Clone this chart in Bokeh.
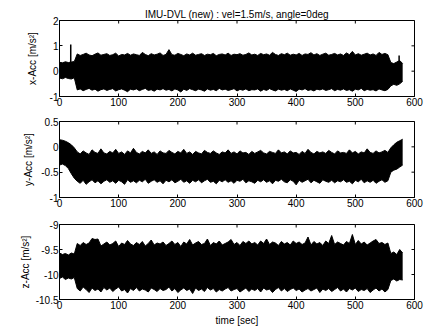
import math
from bokeh.plotting import figure
from bokeh.layouts import column
from bokeh.models import Range1d, FixedTicker
from bokeh.embed import file_html
from bokeh.resources import INLINE

# sample times [sec]
t = list(range(0, 585, 5))
x_ticks = [0, 100, 200, 300, 400, 500, 600]

# ---- x-Acc envelope (upper / lower) ----
x_upper = [0.35, 0.33, 0.37, 0.34, 0.36, 0.38,
           0.68, 0.62, 0.66, 0.71, 0.64, 0.61, 0.67, 0.72, 0.63, 0.66,
           0.69, 0.62, 0.65, 0.71, 0.60, 0.66, 0.64, 0.70, 0.63, 0.68,
           0.65, 0.62, 0.74, 0.66, 0.61, 0.69, 0.64, 0.67, 0.72, 0.62,
           0.66, 0.85, 0.65, 0.63, 0.70, 0.66, 0.61, 0.68, 0.64, 0.71,
           0.63, 0.66, 0.69, 0.62, 0.67, 0.65, 0.70, 0.61, 0.66, 0.68,
           0.64, 0.71, 0.62, 0.67, 0.65, 0.69, 0.63, 0.66, 0.72, 0.64,
           0.67, 0.62, 0.70, 0.65, 0.68, 0.63, 0.74, 0.66, 0.62, 0.69,
           0.65, 0.71, 0.63, 0.67, 0.64, 0.70, 0.62, 0.68, 0.66, 0.73,
           0.64, 0.69, 0.62, 0.67, 0.71, 0.63, 0.66, 0.70, 0.64, 0.68,
           0.62, 0.72, 0.65, 0.78, 0.64, 0.69, 0.63, 0.67, 0.71, 0.64,
           0.68, 0.62, 0.74, 0.66, 0.70, 0.65,
           0.34, 0.30, 0.36, 0.42, 0.30]
x_lower = [-0.27, -0.30, -0.25, -0.29, -0.31, -0.26,
           -0.74, -0.70, -0.77, -0.72, -0.68, -0.75, -0.71, -0.79, -0.73, -0.70,
           -0.76, -0.72, -0.69, -0.78, -0.73, -0.70, -0.75, -0.81, -0.71, -0.74,
           -0.70, -0.77, -0.72, -0.68, -0.76, -0.73, -0.79, -0.71, -0.74, -0.69,
           -0.75, -0.72, -0.78, -0.70, -0.74, -0.82, -0.71, -0.76, -0.69, -0.73,
           -0.77, -0.71, -0.74, -0.79, -0.70, -0.75, -0.72, -0.77, -0.68, -0.74,
           -0.71, -0.76, -0.73, -0.69, -0.78, -0.72, -0.75, -0.70, -0.77, -0.73,
           -0.74, -0.70, -0.79, -0.72, -0.76, -0.69, -0.74, -0.78, -0.71, -0.75,
           -0.72, -0.77, -0.70, -0.75, -0.80, -0.71, -0.74, -0.69, -0.76, -0.73,
           -0.78, -0.71, -0.74, -0.70, -0.76, -0.73, -0.69, -0.77, -0.72, -0.75,
           -0.70, -0.76, -0.73, -0.79, -0.71, -0.74, -0.68, -0.77, -0.72, -0.75,
           -0.73, -0.78, -0.70, -0.74, -0.77, -0.72,
           -0.58, -0.52, -0.56, -0.50, -0.40]
x_spike_t = [19, 574]
x_spike_lo = [0.30, 0.30]
x_spike_hi = [1.05, 0.62]

# ---- y-Acc envelope ----
y_upper = [0.14, 0.13, 0.11, 0.08, 0.04, -0.02,
           -0.10, -0.14, -0.08, -0.12, -0.15, -0.06, -0.11, -0.13, -0.04, -0.12,
           -0.14, -0.09, -0.12, -0.05, -0.13, -0.10, -0.15, -0.08, -0.12, -0.03,
           -0.11, -0.14, -0.09, -0.12, -0.06, -0.13, -0.10, -0.15, -0.08, -0.12,
           -0.13, -0.07, -0.11, -0.14, -0.09, -0.12, -0.05, -0.13, -0.10, -0.15,
           -0.09, -0.12, -0.14, -0.07, -0.11, -0.13, -0.08, -0.12, -0.15, -0.10,
           -0.12, -0.06, -0.13, -0.10, -0.14, -0.08, -0.12, -0.11, -0.15, -0.09,
           -0.13, -0.10, -0.07, -0.12, -0.14, -0.09, -0.11, -0.13, -0.06, -0.12,
           -0.10, -0.14, -0.08, -0.12, -0.11, -0.15, -0.09, -0.13, -0.05, -0.11,
           -0.14, -0.09, -0.12, -0.10, -0.13, -0.07, -0.11, -0.14, -0.08, -0.12,
           -0.11, -0.13, -0.06, -0.12, -0.09, -0.14, -0.10, -0.12, -0.04, -0.11,
           -0.13, -0.08, -0.12, -0.10, -0.07, -0.11,
           -0.02, 0.04, 0.09, 0.12, 0.15]
y_lower = [-0.36, -0.34, -0.37, -0.43, -0.53, -0.62,
           -0.68, -0.72, -0.66, -0.74, -0.69, -0.65, -0.71, -0.67, -0.73, -0.68,
           -0.65, -0.70, -0.67, -0.72, -0.66, -0.69, -0.74, -0.65, -0.70, -0.67,
           -0.71, -0.66, -0.69, -0.64, -0.72, -0.68, -0.65, -0.70, -0.67, -0.73,
           -0.66, -0.69, -0.65, -0.71, -0.68, -0.64, -0.70, -0.67, -0.72, -0.66,
           -0.69, -0.65, -0.71, -0.67, -0.64, -0.70, -0.68, -0.73, -0.66, -0.69,
           -0.65, -0.70, -0.67, -0.72, -0.66, -0.68, -0.64, -0.71, -0.67, -0.69,
           -0.72, -0.66, -0.69, -0.65, -0.70, -0.67, -0.73, -0.66, -0.68, -0.64,
           -0.69, -0.71, -0.65, -0.68, -0.75, -0.66, -0.70, -0.67, -0.64, -0.71,
           -0.66, -0.69, -0.72, -0.65, -0.68, -0.70, -0.66, -0.71, -0.67, -0.69,
           -0.65, -0.70, -0.68, -0.73, -0.66, -0.69, -0.64, -0.71, -0.67, -0.70,
           -0.66, -0.72, -0.68, -0.65, -0.70, -0.67,
           -0.50, -0.46, -0.44, -0.40, -0.36]

# ---- z-Acc envelope ----
z_upper = [-9.57, -9.60, -9.58, -9.61, -9.57, -9.59,
           -9.38, -9.42, -9.36, -9.40, -9.37, -9.28, -9.30, -9.29, -9.43, -9.39,
           -9.35, -9.41, -9.38, -9.33, -9.44, -9.37, -9.40, -9.32, -9.39, -9.42,
           -9.36, -9.40, -9.34, -9.43, -9.38, -9.31, -9.41, -9.37, -9.39, -9.35,
           -9.42, -9.38, -9.33, -9.40, -9.36, -9.44, -9.35, -9.39, -9.30, -9.41,
           -9.37, -9.34, -9.40, -9.38, -9.29, -9.42, -9.36, -9.39, -9.33, -9.41,
           -9.38, -9.35, -9.30, -9.40, -9.36, -9.42, -9.34, -9.38, -9.33, -9.39,
           -9.36, -9.41, -9.33, -9.38, -9.29, -9.40, -9.35, -9.37, -9.42, -9.34,
           -9.39, -9.36, -9.41, -9.33, -9.38, -9.35, -9.40, -9.37, -9.25, -9.41,
           -9.34, -9.39, -9.36, -9.42, -9.33, -9.38, -9.22, -9.40, -9.35, -9.38,
           -9.41, -9.34, -9.38, -9.20, -9.40, -9.32, -9.39, -9.35, -9.41, -9.37,
           -9.33, -9.30, -9.38, -9.36, -9.40, -9.37,
           -9.58, -9.55, -9.60, -9.50, -9.57]
z_lower = [-10.08, -10.05, -10.10, -10.07, -10.09, -10.06,
           -10.28, -10.33, -10.25, -10.30, -10.36, -10.27, -10.32, -10.29, -10.35, -10.26,
           -10.31, -10.27, -10.34, -10.29, -10.25, -10.33, -10.30, -10.37, -10.28, -10.32,
           -10.26, -10.33, -10.29, -10.31, -10.35, -10.27, -10.30, -10.34, -10.28, -10.32,
           -10.30, -10.25, -10.33, -10.28, -10.36, -10.31, -10.27, -10.32, -10.29, -10.38,
           -10.27, -10.32, -10.29, -10.34, -10.26, -10.31, -10.28, -10.35, -10.30, -10.33,
           -10.29, -10.26, -10.33, -10.30, -10.28, -10.35, -10.31, -10.27, -10.34, -10.29,
           -10.32, -10.28, -10.35, -10.27, -10.31, -10.29, -10.36, -10.30, -10.26, -10.33,
           -10.28, -10.34, -10.30, -10.27, -10.32, -10.29, -10.35, -10.31, -10.28, -10.33,
           -10.30, -10.27, -10.36, -10.29, -10.32, -10.28, -10.34, -10.30, -10.26, -10.33,
           -10.29, -10.35, -10.28, -10.31, -10.27, -10.34, -10.30, -10.32, -10.28, -10.36,
           -10.31, -10.27, -10.33, -10.29, -10.35, -10.30,
           -10.12, -10.09, -10.13, -10.10, -10.11]

x_yticks = [-1, 0, 1, 2]
x_ylabels = {-1: "-1", 0: "0", 1: "1", 2: "2"}
y_yticks = [-1, -0.5, 0, 0.5]
y_ylabels = {-1: "-1", -0.5: "-0.5", 0: "0", 0.5: "0.5"}
z_yticks = [-10.5, -10, -9.5, -9]
z_ylabels = {-10.5: "-10.5", -10: "-10", -9.5: "-9.5", -9: "-9"}

TITLE = "IMU-DVL (new) : vel=1.5m/s, angle=0deg"
FONT = "Liberation Sans"
FS = "10px"


def style_axis(ax):
    ax.axis_line_color = "black"
    ax.major_tick_line_color = "black"
    ax.major_tick_in = 3
    ax.major_tick_out = 0
    ax.minor_tick_line_color = None
    ax.major_label_text_font = FONT
    ax.major_label_text_font_size = FS
    ax.major_label_text_color = "black"
    ax.major_label_standoff = 1
    ax.axis_label_text_font = FONT
    ax.axis_label_text_font_size = FS
    ax.axis_label_text_font_style = "normal"
    ax.axis_label_text_color = "black"


def panel(ylo, yhi, yticks, ylabels, ylabel, upper, lower, fheight, top, bottom,
          lab_standoff, title=None, xlabel=None):
    p = figure(frame_width=355, frame_height=fheight, x_range=Range1d(0, 600),
               y_range=Range1d(ylo, yhi), output_backend="svg",
               toolbar_location=None, min_border_left=59, min_border_right=13,
               min_border_top=top, min_border_bottom=bottom)
    p.grid.visible = False
    p.outline_line_color = "black"
    p.outline_line_alpha = 1
    p.background_fill_color = "white"
    p.border_fill_color = "white"
    p.varea(x=t, y1=lower, y2=upper, fill_color="black")
    p.line(t, upper, line_color="black", line_width=1)
    p.line(t, lower, line_color="black", line_width=1)

    # inward tick marks on the top and right edges of the box
    p.scatter(x=x_ticks, y=[yhi] * len(x_ticks), marker="dash", size=6,
              angle=math.pi / 2, line_color="black", line_width=1)
    p.scatter(x=[600] * len(yticks), y=yticks, marker="dash", size=6,
              line_color="black", line_width=1)

    p.xaxis.ticker = FixedTicker(ticks=x_ticks)
    p.yaxis.ticker = FixedTicker(ticks=yticks)
    p.yaxis.major_label_overrides = ylabels
    style_axis(p.xaxis[0])
    style_axis(p.yaxis[0])
    p.yaxis.axis_label = ylabel
    p.yaxis.axis_label_standoff = lab_standoff
    if xlabel:
        p.xaxis.axis_label = xlabel
        p.xaxis.axis_label_standoff = 3

    if title:
        p.title.text = title
        p.title.align = "center"
        p.title.text_font = FONT
        p.title.text_font_size = FS
        p.title.text_font_style = "normal"
        p.title.text_color = "black"
        p.title.standoff = 2
    return p


p1 = panel(-1, 2, x_yticks, x_ylabels, "x-Acc [m/s²]", x_upper, x_lower,
           76, 20, 14, 9, title=TITLE)
p1.segment(x0=x_spike_t, y0=x_spike_lo, x1=x_spike_t, y1=x_spike_hi,
           line_color="black", line_width=1.5)
p2 = panel(-1, 0.5, y_yticks, y_ylabels, "y-Acc [m/s²]", y_upper, y_lower,
           76, 11, 15, 4)
p3 = panel(-10.5, -9, z_yticks, z_ylabels, "z-Acc [m/s²]", z_upper, z_lower,
           75, 12, 30, 2, xlabel="time [sec]")

layout = column(p1, p2, p3, spacing=0)
open("out.html", "w").write(file_html(layout, INLINE))
